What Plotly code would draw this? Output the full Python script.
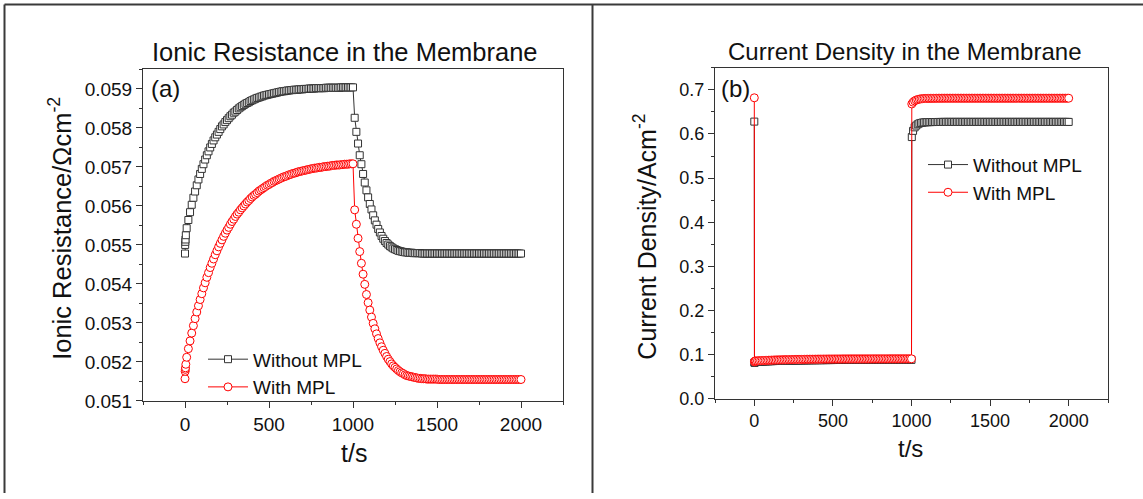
import plotly.graph_objects as go

FONT = "Liberation Sans, Arial, sans-serif"

# ---------------- data ----------------
# time grids (s)
t_left = [0, 1, 2, 3, 5] + list(range(10, 2001, 10))
t_right = [0, 1, 2, 3, 5] + list(range(10, 1001, 10)) + [1002] + list(range(1010, 2001, 10))

# (a) ionic resistance, Ohm cm^-2
ir_without_mpl = [
    0.05478, 0.05500, 0.05508, 0.05514, 0.05525,
    0.05543, 0.05564, 0.05584, 0.05603, 0.05621, 0.05637, 0.05653, 0.05668, 0.05682, 0.05695,
    0.05707, 0.05719, 0.05730, 0.05740, 0.05750, 0.05759, 0.05768, 0.05776, 0.05783, 0.05790,
    0.05797, 0.05804, 0.05809, 0.05815, 0.05820, 0.05825, 0.05830, 0.05834, 0.05839, 0.05842,
    0.05846, 0.05850, 0.05853, 0.05856, 0.05859, 0.05862, 0.05864, 0.05866, 0.05869, 0.05871,
    0.05873, 0.05875, 0.05877, 0.05878, 0.05880, 0.05881, 0.05883, 0.05884, 0.05885, 0.05886,
    0.05887, 0.05888, 0.05889, 0.05890, 0.05891, 0.05892, 0.05893, 0.05894, 0.05894, 0.05895,
    0.05896, 0.05896, 0.05897, 0.05897, 0.05898, 0.05898, 0.05898, 0.05899, 0.05899, 0.05899,
    0.05900, 0.05900, 0.05900, 0.05901, 0.05901, 0.05901, 0.05901, 0.05902, 0.05902, 0.05902,
    0.05902, 0.05902, 0.05902, 0.05903, 0.05903, 0.05903, 0.05903, 0.05903, 0.05903, 0.05903,
    0.05903, 0.05903, 0.05904, 0.05904, 0.05904, 0.05904, 0.05904, 0.05904, 0.05904, 0.05904,
    0.05826, 0.05790, 0.05760, 0.05730, 0.05707, 0.05682, 0.05660, 0.05640, 0.05622, 0.05605,
    0.05591, 0.05576, 0.05563, 0.05552, 0.05541, 0.05532, 0.05523, 0.05516, 0.05510, 0.05505,
    0.05501, 0.05497, 0.05494, 0.05491, 0.05489, 0.05487, 0.05485, 0.05484, 0.05483, 0.05482,
    0.05481, 0.05481, 0.05480, 0.05480, 0.05480, 0.05479, 0.05479, 0.05479, 0.05479, 0.05479,
    0.05478, 0.05478, 0.05478, 0.05478, 0.05478, 0.05478, 0.05478, 0.05478, 0.05478, 0.05478,
    0.05478, 0.05478, 0.05478, 0.05478, 0.05478, 0.05478, 0.05478, 0.05478, 0.05478, 0.05478,
    0.05478, 0.05478, 0.05478, 0.05478, 0.05478, 0.05478, 0.05478, 0.05478, 0.05478, 0.05478,
    0.05478, 0.05478, 0.05478, 0.05478, 0.05478, 0.05478, 0.05478, 0.05478, 0.05478, 0.05478,
    0.05478, 0.05478, 0.05478, 0.05478, 0.05478, 0.05478, 0.05478, 0.05478, 0.05478, 0.05478,
    0.05478, 0.05478, 0.05478, 0.05478, 0.05478, 0.05478, 0.05478, 0.05478, 0.05478, 0.05478,
]

ir_with_mpl = [
    0.05157, 0.05176, 0.05181, 0.05185, 0.05194,
    0.05212, 0.05234, 0.05254, 0.05274, 0.05293, 0.05311, 0.05328, 0.05344, 0.05360, 0.05375,
    0.05390, 0.05403, 0.05417, 0.05429, 0.05442, 0.05453, 0.05464, 0.05475, 0.05485, 0.05495,
    0.05504, 0.05513, 0.05522, 0.05530, 0.05538, 0.05545, 0.05553, 0.05560, 0.05566, 0.05573,
    0.05579, 0.05584, 0.05590, 0.05595, 0.05600, 0.05605, 0.05610, 0.05614, 0.05619, 0.05623,
    0.05627, 0.05630, 0.05634, 0.05638, 0.05641, 0.05644, 0.05647, 0.05650, 0.05653, 0.05655,
    0.05658, 0.05660, 0.05663, 0.05665, 0.05667, 0.05669, 0.05671, 0.05673, 0.05675, 0.05676,
    0.05678, 0.05680, 0.05681, 0.05683, 0.05684, 0.05685, 0.05687, 0.05688, 0.05689, 0.05690,
    0.05691, 0.05692, 0.05693, 0.05694, 0.05695, 0.05696, 0.05697, 0.05697, 0.05698, 0.05699,
    0.05699, 0.05700, 0.05701, 0.05701, 0.05702, 0.05702, 0.05703, 0.05704, 0.05704, 0.05705,
    0.05705, 0.05705, 0.05706, 0.05706, 0.05707, 0.05707, 0.05707, 0.05708, 0.05708, 0.05708,
    0.05590, 0.05553, 0.05517, 0.05483, 0.05453, 0.05425, 0.05399, 0.05373, 0.05352, 0.05333,
    0.05315, 0.05299, 0.05285, 0.05272, 0.05260, 0.05249, 0.05239, 0.05230, 0.05222, 0.05214,
    0.05207, 0.05201, 0.05195, 0.05190, 0.05186, 0.05182, 0.05178, 0.05175, 0.05172, 0.05170,
    0.05167, 0.05165, 0.05164, 0.05163, 0.05162, 0.05161, 0.05160, 0.05159, 0.05158, 0.05158,
    0.05157, 0.05157, 0.05157, 0.05156, 0.05156, 0.05156, 0.05156, 0.05156, 0.05156, 0.05156,
    0.05155, 0.05155, 0.05155, 0.05155, 0.05155, 0.05155, 0.05155, 0.05155, 0.05155, 0.05155,
    0.05155, 0.05155, 0.05155, 0.05155, 0.05155, 0.05155, 0.05155, 0.05155, 0.05155, 0.05155,
    0.05155, 0.05155, 0.05155, 0.05155, 0.05155, 0.05155, 0.05155, 0.05155, 0.05155, 0.05155,
    0.05155, 0.05155, 0.05155, 0.05155, 0.05155, 0.05155, 0.05155, 0.05155, 0.05155, 0.05155,
    0.05155, 0.05155, 0.05155, 0.05155, 0.05155, 0.05155, 0.05155, 0.05155, 0.05155, 0.05155,
]

# (b) current density, A cm^-2
cd_without_mpl = [
    0.628, 0.0815, 0.0822, 0.0826, 0.0828,
    0.0834, 0.0836, 0.0838, 0.0840, 0.0842, 0.0843, 0.0845, 0.0847, 0.0848, 0.0850,
    0.0851, 0.0852, 0.0854, 0.0855, 0.0856, 0.0857, 0.0858, 0.0859, 0.0860, 0.0861,
    0.0862, 0.0863, 0.0864, 0.0864, 0.0865, 0.0866, 0.0867, 0.0867, 0.0868, 0.0868,
    0.0869, 0.0870, 0.0870, 0.0871, 0.0871, 0.0872, 0.0872, 0.0872, 0.0873, 0.0873,
    0.0874, 0.0874, 0.0874, 0.0875, 0.0875, 0.0875, 0.0876, 0.0876, 0.0876, 0.0876,
    0.0877, 0.0877, 0.0877, 0.0877, 0.0877, 0.0878, 0.0878, 0.0878, 0.0878, 0.0878,
    0.0879, 0.0879, 0.0879, 0.0879, 0.0879, 0.0879, 0.0879, 0.0879, 0.0879, 0.0879,
    0.0879, 0.0879, 0.0879, 0.0879, 0.0880, 0.0880, 0.0880, 0.0880, 0.0880, 0.0880,
    0.0880, 0.0880, 0.0880, 0.0880, 0.0880, 0.0881, 0.0881, 0.0881, 0.0881, 0.0881,
    0.0881, 0.0881, 0.0881, 0.0881, 0.0881, 0.0881, 0.0881, 0.0881, 0.0881, 0.0881,
    0.593,
    0.607, 0.615, 0.619, 0.622, 0.624, 0.625, 0.6257, 0.6262, 0.6265, 0.6267,
    0.6268, 0.6269, 0.6270, 0.6270, 0.6271, 0.6271, 0.6272, 0.6272, 0.6272, 0.6273,
    0.6273, 0.6273, 0.6273, 0.6273, 0.6273, 0.6273, 0.6273, 0.6273, 0.6273, 0.6273,
    0.6273, 0.6273, 0.6273, 0.6273, 0.6273, 0.6273, 0.6273, 0.6273, 0.6273, 0.6273,
    0.6273, 0.6273, 0.6273, 0.6273, 0.6273, 0.6273, 0.6273, 0.6273, 0.6273, 0.6273,
    0.6273, 0.6273, 0.6273, 0.6273, 0.6273, 0.6273, 0.6273, 0.6273, 0.6273, 0.6273,
    0.6273, 0.6273, 0.6273, 0.6273, 0.6273, 0.6273, 0.6273, 0.6273, 0.6273, 0.6273,
    0.6273, 0.6273, 0.6273, 0.6273, 0.6273, 0.6273, 0.6273, 0.6273, 0.6273, 0.6273,
    0.6273, 0.6273, 0.6273, 0.6273, 0.6273, 0.6273, 0.6273, 0.6273, 0.6273, 0.6273,
    0.6273, 0.6273, 0.6273, 0.6273, 0.6273, 0.6273, 0.6273, 0.6273, 0.6273, 0.6273,
]

cd_with_mpl = [
    0.682, 0.0835, 0.0842, 0.0847, 0.0851,
    0.0857, 0.0859, 0.0861, 0.0863, 0.0865, 0.0866, 0.0868, 0.0870, 0.0871, 0.0873,
    0.0874, 0.0875, 0.0877, 0.0878, 0.0879, 0.0880, 0.0881, 0.0882, 0.0883, 0.0884,
    0.0885, 0.0886, 0.0887, 0.0887, 0.0888, 0.0889, 0.0890, 0.0890, 0.0891, 0.0891,
    0.0892, 0.0893, 0.0893, 0.0894, 0.0894, 0.0895, 0.0895, 0.0895, 0.0896, 0.0896,
    0.0897, 0.0897, 0.0897, 0.0898, 0.0898, 0.0898, 0.0899, 0.0899, 0.0899, 0.0899,
    0.0900, 0.0900, 0.0900, 0.0900, 0.0900, 0.0901, 0.0901, 0.0901, 0.0901, 0.0901,
    0.0902, 0.0902, 0.0902, 0.0902, 0.0902, 0.0902, 0.0902, 0.0902, 0.0902, 0.0902,
    0.0902, 0.0902, 0.0902, 0.0902, 0.0903, 0.0903, 0.0903, 0.0903, 0.0903, 0.0903,
    0.0903, 0.0903, 0.0903, 0.0903, 0.0903, 0.0904, 0.0904, 0.0904, 0.0904, 0.0904,
    0.0904, 0.0904, 0.0904, 0.0904, 0.0904, 0.0904, 0.0904, 0.0904, 0.0904, 0.0904,
    0.668,
    0.672, 0.675, 0.677, 0.678, 0.679, 0.6795, 0.6800, 0.6803, 0.6805, 0.6806,
    0.6807, 0.6807, 0.6808, 0.6808, 0.6808, 0.6809, 0.6809, 0.6809, 0.6809, 0.6810,
    0.6810, 0.6810, 0.6810, 0.6810, 0.6810, 0.6810, 0.6810, 0.6810, 0.6810, 0.6810,
    0.6810, 0.6810, 0.6810, 0.6810, 0.6810, 0.6810, 0.6810, 0.6810, 0.6810, 0.6810,
    0.6810, 0.6810, 0.6810, 0.6810, 0.6810, 0.6810, 0.6810, 0.6810, 0.6810, 0.6810,
    0.6810, 0.6810, 0.6810, 0.6810, 0.6810, 0.6810, 0.6810, 0.6810, 0.6810, 0.6810,
    0.6810, 0.6810, 0.6810, 0.6810, 0.6810, 0.6810, 0.6810, 0.6810, 0.6810, 0.6810,
    0.6810, 0.6810, 0.6810, 0.6810, 0.6810, 0.6810, 0.6810, 0.6810, 0.6810, 0.6810,
    0.6810, 0.6810, 0.6810, 0.6810, 0.6810, 0.6810, 0.6810, 0.6810, 0.6810, 0.6810,
    0.6810, 0.6810, 0.6810, 0.6810, 0.6810, 0.6810, 0.6810, 0.6810, 0.6810, 0.6810,
]

series_names = ["Without MPL", "With MPL"]

# ---------------- figure ----------------
W, H = 1143, 499
BLACK = "#333333"
RED = "#ff0000"


def px_x(p):
    return p / W


def px_y(p):
    return 1 - p / H


fig = go.Figure()

def add_series(x, y, name, color, symbol, size, xa, ya, legend):
    fig.add_trace(go.Scatter(
        x=x, y=y, name=name, mode="lines+markers",
        line=dict(color=color, width=1),
        marker=dict(symbol=symbol, size=size, color="white",
                    line=dict(color=color, width=1)),
        xaxis=xa, yaxis=ya, legend=legend, cliponaxis=False,
    ))

add_series(t_left, ir_without_mpl, series_names[0], BLACK, "square", 7, "x", "y", "legend")
add_series(t_left, ir_with_mpl, series_names[1], RED, "circle", 8, "x", "y", "legend")
add_series(t_right, cd_without_mpl, series_names[0], BLACK, "square", 7, "x2", "y2", "legend2")
add_series(t_right, cd_with_mpl, series_names[1], RED, "circle", 8, "x2", "y2", "legend2")

axis_common = dict(
    showgrid=False, zeroline=False, showline=True, linecolor="#333333", linewidth=1,
    mirror=True, ticks="outside", ticklen=6, tickwidth=1, tickcolor="#333333",
)

fig.update_layout(
    width=W, height=H,
    margin=dict(l=0, r=0, t=0, b=0),
    paper_bgcolor="white", plot_bgcolor="white",
    font=dict(family=FONT, color="#111111"),
    xaxis=dict(domain=[px_x(143), px_x(563)], range=[-250, 2250], anchor="y",
               tick0=0, dtick=500,
               minor=dict(dtick=250, ticks="outside", ticklen=3, tickcolor="#333333"),
               tickfont=dict(size=19), **axis_common),
    yaxis=dict(domain=[px_y(410), px_y(71)], range=[0.051, 0.0595], anchor="x",
               tick0=0.051, dtick=0.001, tickformat=".3f",
               minor=dict(dtick=0.0005, ticks="outside", ticklen=3, tickcolor="#333333"),
               tickfont=dict(size=19), **axis_common),
    xaxis2=dict(domain=[px_x(715), px_x(1108)], range=[-250, 2250], anchor="y2",
                tick0=0, dtick=500,
                minor=dict(dtick=250, ticks="outside", ticklen=3, tickcolor="#333333"),
                tickfont=dict(size=18), **axis_common),
    yaxis2=dict(domain=[px_y(407.7), px_y(69.3)], range=[0, 0.75], anchor="x2",
                tick0=0, dtick=0.1, tickformat=".1f",
                minor=dict(dtick=0.05, ticks="outside", ticklen=3, tickcolor="#333333"),
                tickfont=dict(size=18), **axis_common),
    legend=dict(x=px_x(203), y=px_y(348), xanchor="left", yanchor="top",
                bgcolor="rgba(0,0,0,0)", font=dict(size=19), itemwidth=40,
                tracegroupgap=0),
    legend2=dict(x=px_x(923), y=px_y(149), xanchor="left", yanchor="top",
                 bgcolor="rgba(0,0,0,0)", font=dict(size=19), itemwidth=40,
                 tracegroupgap=0),
    showlegend=True,
)

ann = []
ann.append(dict(text="Ionic Resistance in the Membrane", x=px_x(345), y=px_y(53),
                font=dict(size=25.5)))
ann.append(dict(text="Current Density in the Membrane", x=px_x(904), y=px_y(53),
                font=dict(size=24)))
ann.append(dict(text="t/s", x=px_x(354), y=px_y(463), font=dict(size=25)))
ann.append(dict(text="t/s", x=px_x(910), y=px_y(459), font=dict(size=24)))
ann.append(dict(text="Ionic Resistance/\u03a9cm<sup>-2</sup>", x=px_x(60), y=px_y(234),
                font=dict(size=25.5), textangle=-90))
ann.append(dict(text="Current Density/Acm<sup>-2</sup>", x=px_x(645), y=px_y(242),
                font=dict(size=25), textangle=-90))
ann.append(dict(text="(a)", x=px_x(149), y=px_y(91), xanchor="left", font=dict(size=24)))
ann.append(dict(text="(b)", x=px_x(719), y=px_y(91), xanchor="left", font=dict(size=24)))
for a in ann:
    a.setdefault("xanchor", "center")
    a.update(xref="paper", yref="paper", yanchor="middle", showarrow=False)
fig.update_layout(annotations=ann)

# panel frames
line_style = dict(color="#3a3a3a", width=2)
shapes = [
    dict(type="line", x0=px_x(4.5), x1=px_x(4.5), y0=px_y(4.5), y1=px_y(H + 5)),
    dict(type="line", x0=px_x(4.5), x1=px_x(W + 5), y0=px_y(4.5), y1=px_y(4.5)),
    dict(type="line", x0=px_x(592.5), x1=px_x(592.5), y0=px_y(4.5), y1=px_y(H + 5)),
]
for s in shapes:
    s.update(xref="paper", yref="paper", line=line_style)
fig.update_layout(shapes=shapes)

fig.write_html("out.html")
